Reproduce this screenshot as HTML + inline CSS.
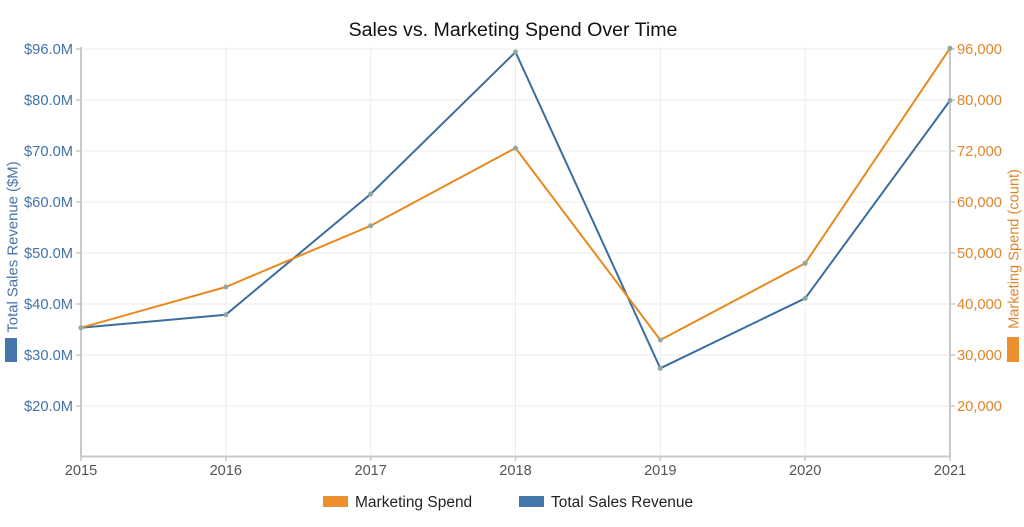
<!DOCTYPE html>
<html><head><meta charset="utf-8"><style>
html,body{margin:0;padding:0;background:#fff;}
svg{display:block;font-family:"Liberation Sans",Arial,sans-serif;}
</style></head><body>
<svg width="1024" height="527" viewBox="0 0 1024 527" xmlns="http://www.w3.org/2000/svg">
<rect width="1024" height="527" fill="#fff"/>
<text x="513" y="36" text-anchor="middle" font-size="19.6" fill="#111">Sales vs. Marketing Spend Over Time</text>
<!-- grid -->
<g stroke="#ebebeb" stroke-width="1">
<line x1="81" y1="49" x2="950" y2="49"/>
<line x1="81" y1="100" x2="950" y2="100"/>
<line x1="81" y1="151" x2="950" y2="151"/>
<line x1="81" y1="202" x2="950" y2="202"/>
<line x1="81" y1="253" x2="950" y2="253"/>
<line x1="81" y1="304" x2="950" y2="304"/>
<line x1="81" y1="355" x2="950" y2="355"/>
<line x1="81" y1="406" x2="950" y2="406"/>
<line x1="225.8" y1="47" x2="225.8" y2="456"/>
<line x1="370.7" y1="47" x2="370.7" y2="456"/>
<line x1="515.5" y1="47" x2="515.5" y2="456"/>
<line x1="660.3" y1="47" x2="660.3" y2="456"/>
<line x1="805.2" y1="47" x2="805.2" y2="456"/>
</g>
<!-- axes -->
<g stroke="#c8c8c8" stroke-width="2" fill="none">
<line x1="81" y1="47" x2="81" y2="457"/>
<line x1="950" y1="47" x2="950" y2="457"/>
<line x1="80" y1="456.5" x2="951" y2="456.5"/>
</g>
<g stroke="#c8c8c8" stroke-width="1.5">
<line x1="76" y1="49" x2="81" y2="49"/><line x1="76" y1="100" x2="81" y2="100"/><line x1="76" y1="151" x2="81" y2="151"/><line x1="76" y1="202" x2="81" y2="202"/><line x1="76" y1="253" x2="81" y2="253"/><line x1="76" y1="304" x2="81" y2="304"/><line x1="76" y1="355" x2="81" y2="355"/><line x1="76" y1="406" x2="81" y2="406"/>
<line x1="950" y1="49" x2="955" y2="49"/><line x1="950" y1="100" x2="955" y2="100"/><line x1="950" y1="151" x2="955" y2="151"/><line x1="950" y1="202" x2="955" y2="202"/><line x1="950" y1="253" x2="955" y2="253"/><line x1="950" y1="304" x2="955" y2="304"/><line x1="950" y1="355" x2="955" y2="355"/><line x1="950" y1="406" x2="955" y2="406"/>
<line x1="81" y1="456" x2="81" y2="461"/><line x1="225.8" y1="456" x2="225.8" y2="461"/><line x1="370.7" y1="456" x2="370.7" y2="461"/><line x1="515.5" y1="456" x2="515.5" y2="461"/><line x1="660.3" y1="456" x2="660.3" y2="461"/><line x1="805.2" y1="456" x2="805.2" y2="461"/><line x1="950" y1="456" x2="950" y2="461"/>
</g>
<!-- left labels -->
<g font-size="14.7" fill="#4472a8" text-anchor="end">
<text x="73" y="54">$96.0M</text>
<text x="73" y="105">$80.0M</text>
<text x="73" y="156">$70.0M</text>
<text x="73" y="207">$60.0M</text>
<text x="73" y="258">$50.0M</text>
<text x="73" y="309">$40.0M</text>
<text x="73" y="360">$30.0M</text>
<text x="73" y="411">$20.0M</text>
</g>
<!-- right labels -->
<g font-size="14.7" fill="#e0862a" text-anchor="start">
<text x="957" y="54">96,000</text>
<text x="957" y="105">80,000</text>
<text x="957" y="156">72,000</text>
<text x="957" y="207">60,000</text>
<text x="957" y="258">50,000</text>
<text x="957" y="309">40,000</text>
<text x="957" y="360">30,000</text>
<text x="957" y="411">20,000</text>
</g>
<!-- axis titles -->
<text transform="translate(17.5,247) rotate(-90)" text-anchor="middle" font-size="14.9" fill="#4472a8">Total Sales Revenue ($M)</text>
<rect x="5" y="338" width="12" height="24" fill="#4577ad"/>
<text transform="translate(1018.5,249) rotate(-90)" text-anchor="middle" font-size="14.6" fill="#e0862a">Marketing Spend (count)</text>
<rect x="1007" y="337" width="12" height="25" fill="#ec8f2c"/>
<!-- x labels -->
<g font-size="14.6" fill="#555" text-anchor="middle">
<text x="81" y="475">2015</text>
<text x="225.8" y="475">2016</text>
<text x="370.7" y="475">2017</text>
<text x="515.5" y="475">2018</text>
<text x="660.3" y="475">2019</text>
<text x="805.2" y="475">2020</text>
<text x="950" y="475">2021</text>
</g>
<!-- series -->
<polyline fill="none" stroke="#3c6d9f" stroke-width="2" stroke-linejoin="round" points="81,327.7 225.8,314.7 370.7,194 515.5,52 660.3,368.3 805.2,298.3 950,100.5"/>
<polyline fill="none" stroke="#e8891f" stroke-width="2" stroke-linejoin="round" points="81,327.7 225.8,287 370.7,225.7 515.5,148 660.3,340 805.2,263.3 950,48.3"/>
<g fill="#8fa8a0">
<circle cx="81" cy="327.7" r="2.5"/><circle cx="225.8" cy="314.7" r="2.5"/><circle cx="370.7" cy="194" r="2.5"/><circle cx="515.5" cy="52" r="2.5"/><circle cx="660.3" cy="368.3" r="2.5"/><circle cx="805.2" cy="298.3" r="2.5"/><circle cx="950" cy="100.5" r="2.5"/>
<circle cx="225.8" cy="287" r="2.5"/><circle cx="370.7" cy="225.7" r="2.5"/><circle cx="515.5" cy="148" r="2.5"/><circle cx="660.3" cy="340" r="2.5"/><circle cx="805.2" cy="263.3" r="2.5"/><circle cx="950" cy="48.3" r="2.5"/>
</g>
<!-- legend -->
<rect x="323" y="496" width="25" height="11" fill="#ec8f2c"/>
<text x="355" y="507" font-size="15.5" fill="#222">Marketing Spend</text>
<rect x="519" y="496" width="25" height="11" fill="#4577ad"/>
<text x="551" y="507" font-size="15.5" fill="#222">Total Sales Revenue</text>
</svg>
</body></html>
